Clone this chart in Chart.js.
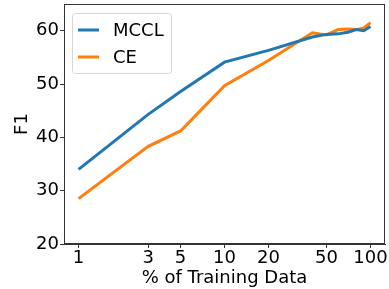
<!DOCTYPE html>
<html>
<head>
<meta charset="utf-8">
<script src="https://cdn.jsdelivr.net/npm/chart.js@4/dist/chart.umd.min.js"></script>
<style>
  html, body { margin: 0; padding: 0; background: #fff; }
  #wrap { width: 389px; height: 289px; }
</style>
</head>
<body>
<div id="wrap"><canvas id="lineChart" width="389" height="289"></canvas></div>
<script>
// Data
const trainPercent = [1, 3, 5, 10, 20, 40, 50, 60, 70, 80, 90, 100];
const mcclF1 = [34.0, 44.3, 48.6, 54.1, 56.3, 58.8, 59.3, 59.4, 59.7, 60.2, 60.0, 60.8];
const ceF1 = [28.5, 38.3, 41.2, 49.7, 54.4, 59.6, 59.2, 60.2, 60.3, 60.2, 60.5, 61.5];
const xTicks = [1, 3, 5, 10, 20, 50, 100];
const yTicks = [20, 30, 40, 50, 60];

const fontFamily = "'DejaVu Sans', sans-serif";
const fontSize = 18;

function toPoints(xs, ys) {
	return xs.map((x, i) => ({ x: x, y: ys[i] }));
}

// Draws the full box around the plot area, like matplotlib does
const framePlugin = {
	id: 'frame',
	afterDatasetsDraw(chart) {
		const ctx = chart.ctx;
		const a = chart.chartArea;
		ctx.save();
		ctx.strokeStyle = '#333';
		ctx.lineWidth = 1;
		ctx.strokeRect(a.left + 0.5, a.top + 0.5, a.right - a.left - 1, a.bottom - a.top - 1);
		ctx.restore();
	}
};

// Legend drawn inside the upper left corner of the plot
const insideLegend = {
	id: 'insideLegend',
	afterDraw(chart) {
		const ctx = chart.ctx;
		const a = chart.chartArea;
		const x0 = a.left + 8, y0 = a.top + 9, w = 99, h = 60;
		ctx.save();
		ctx.fillStyle = 'rgba(255,255,255,0.8)';
		ctx.strokeStyle = '#d6d6d6';
		ctx.lineWidth = 1;
		ctx.beginPath();
		ctx.roundRect(x0 + 0.5, y0 + 0.5, w, h, 3);
		ctx.fill();
		ctx.stroke();
		ctx.font = fontSize + 'px ' + fontFamily;
		ctx.textBaseline = 'middle';
		chart.data.datasets.forEach((ds, i) => {
			const yy = y0 + 17 + i * 27;
			ctx.strokeStyle = ds.borderColor;
			ctx.lineWidth = 3;
			ctx.beginPath();
			ctx.moveTo(x0 + 6, yy);
			ctx.lineTo(x0 + 27, yy);
			ctx.stroke();
			ctx.fillStyle = '#000';
			ctx.fillText(ds.label, x0 + 41, yy + 1);
		});
		ctx.restore();
	}
};

const canvas = document.getElementById('lineChart');

new Chart(canvas, {
	type: 'line',
	data: {
		datasets: [
			{
				label: 'MCCL',
				data: toPoints(trainPercent, mcclF1),
				borderColor: '#1f77b4',
				borderWidth: 3,
				pointRadius: 0,
				tension: 0
			},
			{
				label: 'CE',
				data: toPoints(trainPercent, ceF1),
				borderColor: '#ff7f0e',
				borderWidth: 3,
				pointRadius: 0,
				tension: 0
			}
		]
	},
	options: {
		responsive: false,
		animation: false,
		layout: { padding: { top: 4, right: 4, left: 12, bottom: 0 } },
		plugins: {
			legend: { display: false },
			tooltip: { enabled: false }
		},
		scales: {
			x: {
				type: 'logarithmic',
				min: Math.pow(10, -0.1),
				max: Math.pow(10, 2.1),
				afterBuildTicks: scale => { scale.ticks = xTicks.map(v => ({ value: v })); },
				afterFit: scale => {
					scale.height = 45;
					scale.paddingLeft = 0;
					scale.paddingRight = 0;
				},
				ticks: {
					color: '#000',
					font: { family: fontFamily, size: fontSize },
					padding: 0,
					maxRotation: 0,
					autoSkip: false,
					callback: value => String(value)
				},
				grid: { drawOnChartArea: false, drawTicks: true, tickLength: 4, color: '#333' },
				border: { display: true, color: '#333' },
				title: {
					display: true,
					text: '% of Training Data',
					color: '#000',
					font: { family: fontFamily, size: fontSize },
					padding: { top: 0, bottom: 0 }
				}
			},
			y: {
				type: 'linear',
				min: 20,
				max: 65,
				afterBuildTicks: scale => { scale.ticks = yTicks.map(v => ({ value: v })); },
				afterFit: scale => {
					scale.width = 52;
					scale.paddingTop = 0;
					scale.paddingBottom = 0;
				},
				ticks: {
					color: '#000',
					font: { family: fontFamily, size: fontSize },
					padding: 1
				},
				grid: { drawOnChartArea: false, drawTicks: true, tickLength: 4, color: '#333' },
				border: { display: true, color: '#333' },
				title: {
					display: true,
					text: 'F1',
					color: '#000',
					font: { family: fontFamily, size: fontSize },
					padding: { top: 0, bottom: 0 }
				}
			}
		}
	},
	plugins: [framePlugin, insideLegend]
});
</script>
</body>
</html>
